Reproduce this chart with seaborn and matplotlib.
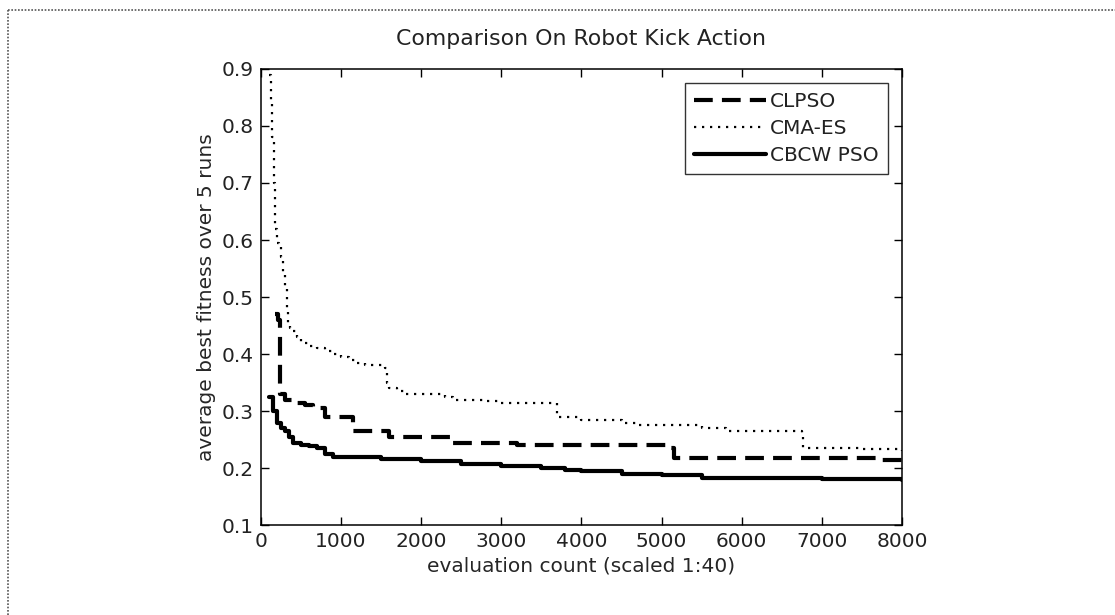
import matplotlib
matplotlib.use("Agg")
import matplotlib.pyplot as plt
from matplotlib.lines import Line2D
import seaborn as sns
import pandas as pd

# Evaluation counts (scaled 1:40) and average best fitness over 5 runs
clpso_x = [170, 210, 240, 300, 400, 550, 650, 800, 1100, 1150, 1600, 2400, 3200, 5100, 5150, 7600, 7700, 8000]
clpso_y = [0.47, 0.46, 0.33, 0.32, 0.315, 0.31, 0.305, 0.29, 0.29, 0.265, 0.255, 0.245, 0.24, 0.236, 0.218, 0.218, 0.214, 0.214]

cma_x = [100, 120, 140, 160, 180, 200, 230, 250, 280, 300, 320, 340, 360, 400, 450, 500, 600, 700,
         800, 900, 1000, 1100, 1200, 1300, 1550, 1570, 1600, 1700, 1800, 2300, 2400, 2800, 3000,
         3650, 3700, 4000, 4500, 4700, 5500, 5800, 6750, 6760, 7500, 8000]
cma_y = [0.89, 0.84, 0.78, 0.70, 0.62, 0.595, 0.59, 0.57, 0.54, 0.52, 0.48, 0.45, 0.445, 0.44, 0.43,
         0.42, 0.415, 0.41, 0.405, 0.40, 0.395, 0.39, 0.385, 0.38, 0.375, 0.35, 0.34, 0.335, 0.33,
         0.325, 0.32, 0.317, 0.315, 0.315, 0.29, 0.285, 0.28, 0.275, 0.27, 0.265, 0.262, 0.235,
         0.233, 0.23]

cbcw_x = [100, 150, 200, 250, 300, 350, 400, 500, 600, 700, 800, 900, 1200, 1500, 2000, 2500, 3000,
          3500, 3800, 4000, 4500, 5000, 5500, 6000, 7000, 8000]
cbcw_y = [0.325, 0.30, 0.28, 0.27, 0.265, 0.255, 0.245, 0.24, 0.238, 0.235, 0.225, 0.22, 0.219,
          0.216, 0.213, 0.208, 0.203, 0.20, 0.197, 0.195, 0.19, 0.188, 0.183, 0.182, 0.181, 0.18]

x_ticks = [0, 1000, 2000, 3000, 4000, 5000, 6000, 7000, 8000]
y_ticks = [0.1, 0.2, 0.3, 0.4, 0.5, 0.6, 0.7, 0.8, 0.9]

sns.set_style("ticks")
plt.rcParams["font.family"] = ["DejaVu Sans"]
plt.rcParams["text.color"] = "#222222"

fig = plt.figure(figsize=(11.15, 6.15), dpi=100)
ax = fig.add_axes([0.234, 0.146, 0.575, 0.742])

series = [
    ("CLPSO", clpso_x, clpso_y, dict(linestyle=(0, (4.5, 2.2)), linewidth=3.0)),
    ("CMA-ES", cma_x, cma_y, dict(linestyle=(0, (1, 2.6)), linewidth=1.6)),
    ("CBCW PSO", cbcw_x, cbcw_y, dict(linestyle="-", linewidth=3.0)),
]
for name, xs, ys, st in series:
    df = pd.DataFrame({"count": xs, "fitness": ys})
    sns.lineplot(data=df, x="count", y="fitness", ax=ax, color="black",
                 drawstyle="steps-post", label=name, **st)

FS = 14.5
ax.set_xlim(0, 8000)
ax.set_ylim(0.1, 0.9)
ax.set_xticks(x_ticks)
ax.set_yticks(y_ticks)
ax.set_xticklabels([str(v) for v in x_ticks])
ax.set_yticklabels([f"{v:.1f}" for v in y_ticks])
ax.tick_params(direction="in", length=6, width=1, top=True, right=True,
               labelsize=FS, color="black", labelcolor="#222222", pad=5)
for sp in ax.spines.values():
    sp.set_visible(True)
    sp.set_color("black")
    sp.set_linewidth(1.1)

ax.set_title("Comparison On Robot Kick Action", fontsize=15.8, pad=17)
ax.set_xlabel("evaluation count (scaled 1:40)", fontsize=FS, labelpad=4)
ax.set_ylabel("average best fitness over 5 runs", fontsize=FS, labelpad=4)

leg = ax.legend(loc="upper right", fontsize=FS, frameon=True, fancybox=False,
                handlelength=3.6, handletextpad=0.2, borderpad=0.45,
                labelspacing=0.4, borderaxespad=0.7)
leg.get_frame().set_edgecolor("black")
leg.get_frame().set_linewidth(1.0)
for t in leg.get_texts():
    t.set_color("#222222")

# dotted frame along the top and left of the figure
fig.add_artist(Line2D([0.007, 1.0], [0.984, 0.984], transform=fig.transFigure,
                      color="#555555", linestyle=(0, (1, 1)), linewidth=1.2))
fig.add_artist(Line2D([0.007, 0.007], [0.0, 0.984], transform=fig.transFigure,
                      color="#555555", linestyle=(0, (1, 1)), linewidth=1.2))

fig.savefig("out.png", dpi=100)
